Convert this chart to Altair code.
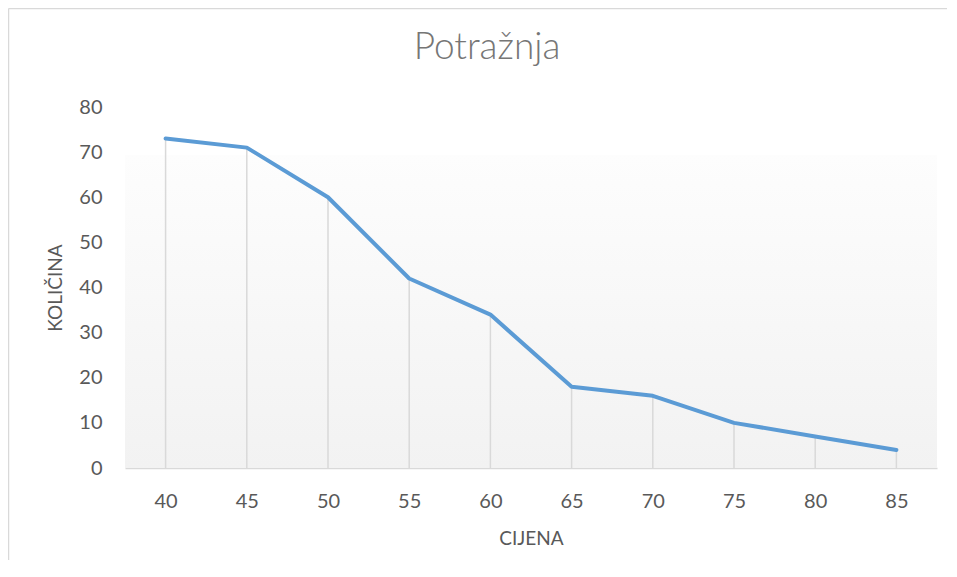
import altair as alt
import pandas as pd

# Data
cijena = [40, 45, 50, 55, 60, 65, 70, 75, 80, 85]
kolicina = [73, 71, 60, 42, 34, 18, 16, 10, 7, 4]

df = pd.DataFrame({"cijena": cijena, "kolicina": kolicina})
bg = pd.DataFrame({"k": [0]})

FONT = "Lato"
W, H = 812, 361

x_enc = alt.X(
    "cijena:O",
    scale=alt.Scale(type="point", padding=0.5),
    axis=alt.Axis(
        title="CIJENA",
        labelAngle=0,
        labelFont=FONT,
        labelFontSize=20,
        labelColor="#595959",
        labelBaseline="middle",
        labelPadding=33,
        ticks=False,
        tickSize=0,
        domainColor="#d9d9d9",
        domainWidth=1.5,
        grid=False,
        titleFont=FONT,
        titleFontSize=19,
        titleFontWeight="normal",
        titleColor="#595959",
        titleX=W / 2,
        titleY=70,
        titleAlign="center",
        titleBaseline="middle",
    ),
)

y_axis = alt.Axis(
    title="KOLIČINA",
    values=[0, 10, 20, 30, 40, 50, 60, 70, 80],
    labelFont=FONT,
    labelFontSize=20,
    labelColor="#595959",
    labelBaseline="middle",
    labelPadding=23,
    ticks=False,
    tickSize=0,
    domain=False,
    grid=False,
    titleFont=FONT,
    titleFontSize=19,
    titleFontWeight="normal",
    titleColor="#595959",
    titleX=-70,
    titleY=H / 2,
    titleAngle=270,
    titleAlign="center",
    titleBaseline="middle",
)
y_scale = alt.Scale(domain=[0, 80])

border_left = alt.Chart(bg).mark_rule(color="#d9d9d9", strokeWidth=1.5, clip=False).encode(
    x=alt.value(-116.5), y=alt.value(-98.5), y2=alt.value(H + 92)
)
border_top = alt.Chart(bg).mark_rule(color="#d9d9d9", strokeWidth=1.5, clip=False).encode(
    x=alt.value(-116.5), x2=alt.value(W + 10), y=alt.value(-98.5)
)

backdrop = alt.Chart(bg).mark_rect(
    fill=alt.Gradient(
        gradient="linear",
        x1=0, y1=0, x2=0, y2=1,
        stops=[
            alt.GradientStop(color="#fdfdfd", offset=0),
            alt.GradientStop(color="#f2f2f2", offset=1),
        ],
    )
).encode(x=alt.value(0), x2=alt.value(W), y=alt.value(48), y2=alt.value(H))

drops = (
    alt.Chart(df)
    .transform_calculate(base="0")
    .mark_rule(color="#d9d9d9", strokeWidth=1.5)
    .encode(
        x=x_enc,
        y=alt.Y("base:Q", scale=y_scale, axis=y_axis),
        y2=alt.Y2("kolicina:Q"),
    )
)

line = alt.Chart(df).mark_line(
    color="#5b9bd5", strokeWidth=4, strokeCap="round", strokeJoin="round"
).encode(x=x_enc, y=alt.Y("kolicina:Q", scale=y_scale, axis=y_axis))

chart = (
    alt.layer(border_left, border_top, backdrop, drops, line)
    .properties(
        width=W,
        height=H,
        title=alt.TitleParams(
            "Potražnja",
            font=FONT,
            fontSize=37,
            fontWeight=300,
            color="#767676",
            anchor="middle",
            dx=-44,
            baseline="middle",
            offset=-77,
        ),
        autosize=alt.AutoSizeParams(type="none"),
        padding={"left": 117, "top": 99, "right": 10, "bottom": 92},
    )
    .configure(background="white")
    .configure_view(stroke="transparent", strokeWidth=0)
)

chart.save("out.html", embed_options={"renderer": "svg", "actions": False})
